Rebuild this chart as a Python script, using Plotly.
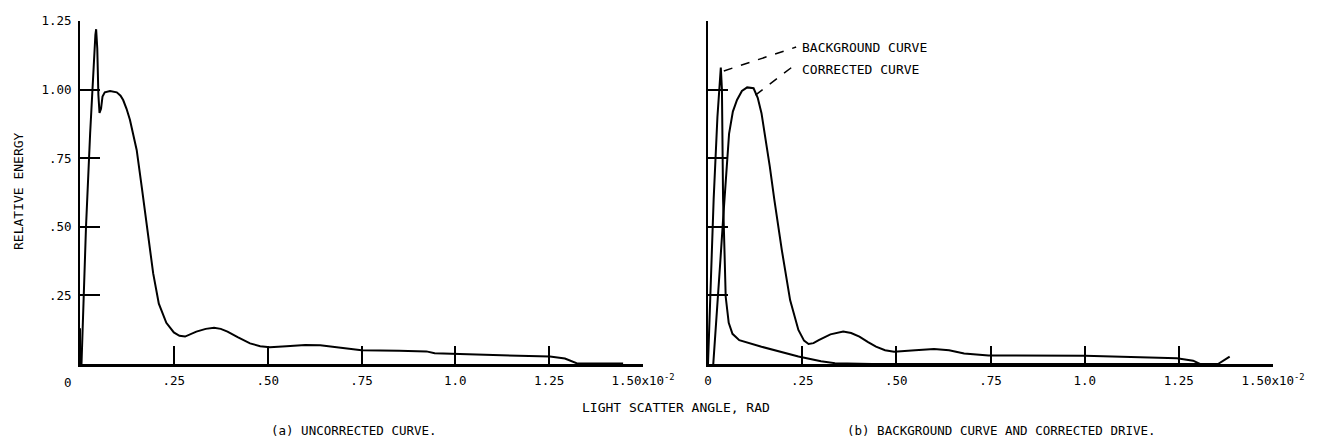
import plotly.graph_objects as go

# ---- data (x in units of 10^-2 rad) ----
unc_x = [0.0, 0.0, 0.004, 0.016, 0.027, 0.036, 0.041, 0.043, 0.046, 0.049, 0.052, 0.056, 0.06, 0.066,
         0.08, 0.098, 0.108, 0.115, 0.124, 0.133, 0.142, 0.151, 0.165, 0.18, 0.195, 0.21, 0.23, 0.25,
         0.265, 0.28, 0.295, 0.31, 0.335, 0.357, 0.375, 0.393, 0.42, 0.453, 0.48, 0.506, 0.55, 0.6,
         0.64, 0.7, 0.75, 0.85, 0.923, 0.945, 1.0, 1.1, 1.252, 1.292, 1.323, 1.447]
unc_y = [0.13, 0.0, 0.0, 0.5, 0.84, 1.1, 1.2, 1.22, 1.15, 0.98, 0.915, 0.93, 0.975, 0.99,
         0.995, 0.99, 0.978, 0.962, 0.93, 0.89, 0.84, 0.78, 0.64, 0.48, 0.33, 0.22, 0.15, 0.115,
         0.103, 0.10, 0.108, 0.118, 0.128, 0.132, 0.128, 0.118, 0.098, 0.075, 0.065, 0.061, 0.065, 0.069,
         0.068, 0.058, 0.05, 0.048, 0.046, 0.039, 0.037, 0.033, 0.027, 0.02, 0.003, 0.002]

bg_x = [0.0, 0.008, 0.015, 0.025, 0.032, 0.034, 0.037, 0.04, 0.044, 0.047, 0.055, 0.065, 0.083,
        0.142, 0.24, 0.3, 0.337, 0.435, 1.35]
bg_y = [0.0, 0.3, 0.6, 0.9, 1.06, 1.08, 1.0, 0.6, 0.4, 0.245, 0.15, 0.11, 0.087,
        0.063, 0.027, 0.01, 0.003, 0.0, 0.0]

cor_x = [0.014, 0.025, 0.033, 0.04, 0.048, 0.056, 0.066, 0.077, 0.09, 0.104, 0.121, 0.132, 0.142,
         0.153, 0.164, 0.176, 0.196, 0.218, 0.24, 0.255, 0.267, 0.28, 0.294, 0.325, 0.359, 0.38,
         0.402, 0.425, 0.446, 0.47, 0.494, 0.55, 0.6, 0.64, 0.68, 0.745, 1.0, 1.245, 1.288, 1.306,
         1.332, 1.354, 1.385]
cor_y = [0.0, 0.2, 0.38, 0.525, 0.7, 0.84, 0.92, 0.962, 0.995, 1.008, 1.005, 0.97, 0.914,
         0.82, 0.72, 0.6, 0.415, 0.233, 0.124, 0.085, 0.073, 0.076, 0.087, 0.108, 0.118, 0.113,
         0.1, 0.08, 0.063, 0.05, 0.045, 0.05, 0.055, 0.05, 0.038, 0.031, 0.03, 0.021, 0.012, 0.0,
         0.0, 0.0, 0.027]

x_tickvals_a = [0.25, 0.5, 0.75, 1.0, 1.25, 1.5]
x_ticktext_a = [".25", ".50", ".75", "1.0", "1.25", "1.50x10<sup>-2</sup>"]
x_tickvals_b = [0, 0.25, 0.5, 0.75, 1.0, 1.25, 1.5]
x_ticktext_b = ["0", ".25", ".50", ".75", "1.0", "1.25", "1.50x10<sup>-2</sup>"]
y_tickvals = [0.25, 0.5, 0.75, 1.0, 1.25]
y_ticktext = [".25", ".50", ".75", "1.00", "1.25"]

FONT = "DejaVu Sans Mono"
W, H = 1319, 440

fig = go.Figure()
line = dict(color="black", width=2)
fig.add_trace(go.Scatter(x=unc_x, y=unc_y, mode="lines", line=line, xaxis="x", yaxis="y", showlegend=False))
fig.add_trace(go.Scatter(x=bg_x, y=bg_y, mode="lines", line=line, xaxis="x2", yaxis="y2", showlegend=False))
fig.add_trace(go.Scatter(x=cor_x, y=cor_y, mode="lines", line=line, xaxis="x2", yaxis="y2", showlegend=False))

ydom = [76 / H, 419 / H]
tickfont = dict(family=FONT, size=12.5, color="black")
xcommon = dict(range=[0, 1.5], tickmode="array", ticks="inside", ticklen=18,
               tickwidth=1.5, tickcolor="black", showline=True, linecolor="black", linewidth=2.5,
               showgrid=False, zeroline=False, tickfont=tickfont, ticklabelstandoff=3,
               automargin=False)
ycommon = dict(range=[0, 1.25], tickmode="array", tickvals=y_tickvals, ticks="inside", ticklen=20,
               tickwidth=1.5, tickcolor="black", showline=True, linecolor="black", linewidth=2,
               showgrid=False, zeroline=False, domain=ydom, tickfont=tickfont, automargin=False)

fig.update_layout(
    width=W, height=H, margin=dict(l=0, r=0, t=0, b=0, pad=0, autoexpand=False),
    paper_bgcolor="white", plot_bgcolor="white",
    font=dict(family=FONT, size=12, color="black"),
    xaxis=dict(domain=[80 / W, 643 / W], anchor="y", tickvals=x_tickvals_a, ticktext=x_ticktext_a, **xcommon),
    yaxis=dict(anchor="x", ticktext=y_ticktext, ticklabelstandoff=4, **ycommon),
    xaxis2=dict(domain=[708 / W, 1273 / W], anchor="y2", tickvals=x_tickvals_b, ticktext=x_ticktext_b, **xcommon),
    yaxis2=dict(anchor="x2", ticktext=y_ticktext, showticklabels=False, **ycommon),
)

black = "black"
C = dict(xanchor="center", yanchor="middle", showarrow=False)
ann = []
ann.append(dict(text="0", x=0, y=0, xref="x", yref="y", xshift=-12, yshift=-9, yanchor="top",
                xanchor="center", showarrow=False, font=tickfont))
ann.append(dict(text="RELATIVE ENERGY", x=18 / W, y=1 - 191 / H, xref="paper", yref="paper",
                textangle=-90, font=dict(family=FONT, size=13, color=black), **C))
ann.append(dict(text="LIGHT SCATTER ANGLE, RAD", x=676 / W, y=1 - 407 / H, xref="paper", yref="paper",
                font=dict(family=FONT, size=13, color=black), **C))
ann.append(dict(text="(a) UNCORRECTED CURVE.", x=354 / W, y=1 - 430 / H, xref="paper", yref="paper",
                font=dict(family=FONT, size=12.5, color=black), **C))
ann.append(dict(text="(b) BACKGROUND CURVE AND CORRECTED DRIVE.", x=1001 / W, y=1 - 430 / H,
                xref="paper", yref="paper", font=dict(family=FONT, size=12.5, color=black), **C))
ann.append(dict(text="BACKGROUND CURVE", x=0.245, y=1.155, xref="x2", yref="y2", xanchor="left",
                yanchor="middle", showarrow=False, font=dict(family=FONT, size=13, color=black)))
ann.append(dict(text="CORRECTED CURVE", x=0.245, y=1.075, xref="x2", yref="y2", xanchor="left",
                yanchor="middle", showarrow=False, font=dict(family=FONT, size=13, color=black)))
fig.update_layout(annotations=ann)

fig.add_shape(type="line", xref="x2", yref="y2", x0=0.042, y0=1.068, x1=0.234, y1=1.155,
              line=dict(color="black", width=1.5, dash="dash"))
fig.add_shape(type="line", xref="x2", yref="y2", x0=0.126, y0=0.98, x1=0.223, y1=1.082,
              line=dict(color="black", width=1.5, dash="dash"))

fig.write_html("out.html", config={"displayModeBar": False},
               post_script="document.body.style.margin='0';document.body.style.overflow='hidden';")
